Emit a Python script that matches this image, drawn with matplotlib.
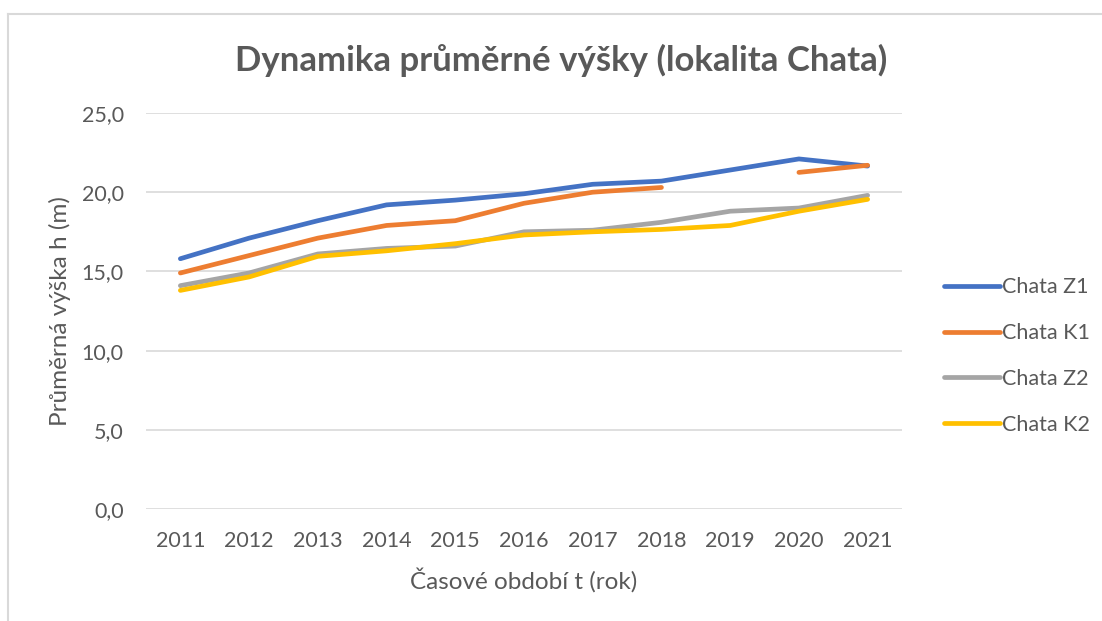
import numpy as np
import matplotlib
matplotlib.use('Agg')
import matplotlib.pyplot as plt
from matplotlib.lines import Line2D
from matplotlib.ticker import FuncFormatter

plt.rcParams['font.family'] = ['Lato', 'DejaVu Sans']

years = ['2011', '2012', '2013', '2014', '2015', '2016', '2017', '2018', '2019', '2020', '2021']
chata_z1 = [15.8, 17.1, 18.2, 19.2, 19.5, 19.9, 20.5, 20.7, 21.4, 22.1, 21.65]
chata_k1 = [14.9, 16.0, 17.1, 17.9, 18.2, 19.3, 20.0, 20.3, np.nan, 21.25, 21.7]
chata_z2 = [14.1, 14.9, 16.1, 16.45, 16.6, 17.5, 17.6, 18.1, 18.8, 19.0, 19.8]
chata_k2 = [13.8, 14.65, 15.95, 16.3, 16.75, 17.3, 17.5, 17.65, 17.9, 18.8, 19.55]

series = [('Chata Z1', chata_z1, '#4472C4'),
          ('Chata K1', chata_k1, '#ED7D31'),
          ('Chata Z2', chata_z2, '#A5A5A5'),
          ('Chata K2', chata_k2, '#FFC000')]

txt = '#595959'
fig = plt.figure(figsize=(11.02, 6.21), dpi=100)
ax = fig.add_axes([146 / 1102, 112 / 621, 756 / 1102, 396 / 621])

x = np.arange(len(years))
for name, vals, col in series:
    ax.plot(x, vals, color=col, lw=3.4, solid_capstyle='round', solid_joinstyle='round', label=name)

ax.set_xlim(-0.5, len(years) - 0.5)
ax.set_ylim(0, 25)
ax.set_yticks(np.arange(0, 26, 5))
ax.yaxis.set_major_formatter(FuncFormatter(lambda v, p: f'{v:.1f}'.replace('.', ',')))
ax.set_xticks(x)
ax.set_xticklabels(years)
ax.grid(axis='y', color='#d9d9d9', lw=1.2)
ax.set_axisbelow(True)
for s in ['top', 'right', 'left', 'bottom']:
    ax.spines[s].set_visible(False)
ax.tick_params(length=0, labelsize=15.5, colors=txt)
ax.tick_params(axis='x', pad=16)
ax.tick_params(axis='y', pad=16)

ax.set_xlabel('Časové období t (rok)', fontsize=17.5, color=txt, labelpad=12)
ax.set_ylabel('Průměrná výška h (m)', fontsize=17.5, color=txt, labelpad=8)
fig.text(0.509, 0.903, 'Dynamika průměrné výšky (lokalita Chata)', ha='center', va='center',
         fontsize=25, fontweight='bold', color=txt)

leg = fig.legend(loc='center left', bbox_to_anchor=(925 / 1102, 1 - 356 / 621), frameon=False,
                 fontsize=15.5, handlelength=2.6, handletextpad=0.1, labelspacing=1.2,
                 labelcolor=txt)

# chart border
fig.add_artist(Line2D([7.5 / 1102, 1], [1 - 13.5 / 621, 1 - 13.5 / 621], color='#d9d9d9', lw=1.5))
fig.add_artist(Line2D([7.5 / 1102, 7.5 / 1102], [0, 1 - 13.5 / 621], color='#d9d9d9', lw=1.5))

fig.savefig('out.png', dpi=100)
